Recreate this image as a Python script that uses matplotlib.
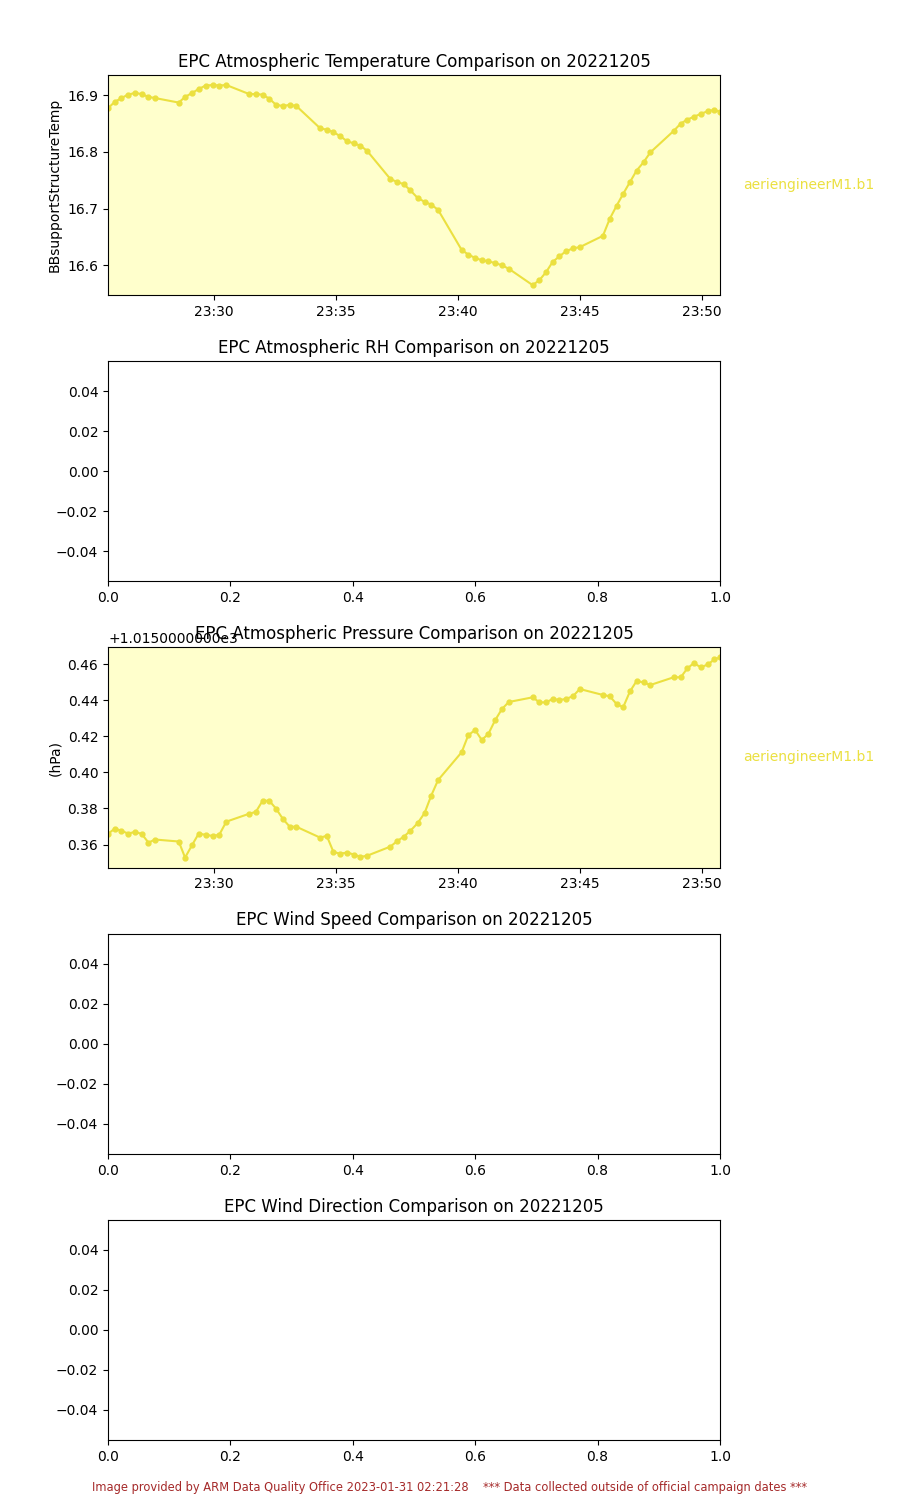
import matplotlib
matplotlib.use('Agg')
import matplotlib.pyplot as plt
import matplotlib.dates as mdates
from matplotlib.ticker import ScalarFormatter
import pandas as pd

# minutes after 23:00 on 2022-12-05
minutes = [25.66, 25.93, 26.21, 26.48, 26.77, 27.04, 27.32, 27.59, 28.56, 28.82,
           29.11, 29.38, 29.66, 29.95, 30.22, 30.51, 31.45, 31.72, 32.00, 32.27,
           32.55, 32.83, 33.11, 33.38, 34.35, 34.63, 34.90, 35.17, 35.46, 35.74,
           36.01, 36.28, 37.24, 37.52, 37.79, 38.06, 38.35, 38.64, 38.91, 39.19,
           40.16, 40.43, 40.71, 40.98, 41.25, 41.53, 41.81, 42.09, 43.07, 43.35,
           43.62, 43.89, 44.17, 44.44, 44.73, 45.00, 45.95, 46.23, 46.51, 46.78,
           47.06, 47.33, 47.62, 47.89, 48.85, 49.14, 49.41, 49.68, 49.96, 50.25,
           50.52, 50.75]

# BBsupportStructureTemp
temp = [16.877, 16.888, 16.895, 16.901, 16.904, 16.902, 16.897, 16.895, 16.887, 16.897,
        16.904, 16.911, 16.917, 16.918, 16.917, 16.918, 16.902, 16.902, 16.901, 16.894,
        16.883, 16.881, 16.883, 16.881, 16.842, 16.839, 16.835, 16.828, 16.819, 16.815,
        16.811, 16.802, 16.752, 16.747, 16.743, 16.732, 16.719, 16.712, 16.707, 16.698,
        16.627, 16.619, 16.613, 16.609, 16.607, 16.604, 16.600, 16.594, 16.565, 16.574,
        16.588, 16.606, 16.616, 16.625, 16.630, 16.632, 16.652, 16.682, 16.705, 16.726,
        16.747, 16.767, 16.782, 16.799, 16.837, 16.850, 16.857, 16.862, 16.867, 16.872,
        16.874, 16.871]

# pressure (hPa)
pres = [1015.3659, 1015.3688, 1015.3677, 1015.3661, 1015.3670, 1015.3659, 1015.3611, 1015.3628,
        1015.3617, 1015.3528, 1015.3598, 1015.3661, 1015.3654, 1015.3648, 1015.3654, 1015.3727,
        1015.3771, 1015.3781, 1015.3843, 1015.3843, 1015.3799, 1015.3742, 1015.3699, 1015.3699,
        1015.3639, 1015.3648, 1015.3560, 1015.3549, 1015.3556, 1015.3545, 1015.3532, 1015.3538,
        1015.3589, 1015.3620, 1015.3644, 1015.3677, 1015.3718, 1015.3775, 1015.3871, 1015.3957,
        1015.4112, 1015.4206, 1015.4235, 1015.4180, 1015.4212, 1015.4289, 1015.4351, 1015.4390,
        1015.4416, 1015.4388, 1015.4388, 1015.4407, 1015.4401, 1015.4407, 1015.4423, 1015.4462,
        1015.4429, 1015.4422, 1015.4379, 1015.4361, 1015.4449, 1015.4506, 1015.4499, 1015.4484,
        1015.4527, 1015.4527, 1015.4576, 1015.4606, 1015.4582, 1015.4598, 1015.4626, 1015.4637]

titles = ['EPC Atmospheric Temperature Comparison on 20221205',
          'EPC Atmospheric RH Comparison on 20221205',
          'EPC Atmospheric Pressure Comparison on 20221205',
          'EPC Wind Speed Comparison on 20221205',
          'EPC Wind Direction Comparison on 20221205']

label = 'aeriengineerM1.b1'
line_color = '#ebe040'
bg_color = '#ffffcc'

times = pd.Timestamp('2022-12-05 23:00') + pd.to_timedelta(minutes, unit='min')


class LongOffsetFormatter(ScalarFormatter):
    def get_offset(self):
        if self.offset:
            return f'{self.offset:+.10e}'.replace('e+0', 'e')
        return super().get_offset()


fig, axes = plt.subplots(5, 1, figsize=(9, 15))
plt.subplots_adjust(left=0.12, right=0.8, top=0.95, bottom=0.04, hspace=0.3)

for ax, title in zip(axes, titles):
    # fixed y so the title does not dodge the offset text
    ax.set_title(title, y=1.0, pad=6)

# temperature
ax = axes[0]
ax.set_facecolor(bg_color)
ax.plot(times, temp, marker='o', markersize=3.5, color=line_color, linewidth=1.5)
ax.set_xlim(times[0], times[-1])
ax.set_ylabel('BBsupportStructureTemp')
ax.xaxis.set_major_locator(mdates.MinuteLocator(byminute=range(0, 60, 5)))
ax.xaxis.set_major_formatter(mdates.DateFormatter('%H:%M'))
ax.text(1.037, 0.5, label, transform=ax.transAxes, va='center', color=line_color)

# pressure
ax = axes[2]
ax.set_facecolor(bg_color)
ax.plot(times, pres, marker='o', markersize=3.5, color=line_color, linewidth=1.5)
ax.set_xlim(times[0], times[-1])
ax.set_ylabel('(hPa)')
ax.yaxis.set_major_formatter(LongOffsetFormatter())
ax.xaxis.set_major_locator(mdates.MinuteLocator(byminute=range(0, 60, 5)))
ax.xaxis.set_major_formatter(mdates.DateFormatter('%H:%M'))
ax.text(1.037, 0.5, label, transform=ax.transAxes, va='center', color=line_color)

# empty panels
for i in (1, 3, 4):
    axes[i].set_xlim(0, 1)
    axes[i].set_ylim(-0.055, 0.055)

fig.text(0.5, 0.006, 'Image provided by ARM Data Quality Office 2023-01-31 02:21:28    '
         '*** Data collected outside of official campaign dates ***',
         ha='center', fontsize=8.3, color='#a52a2a')

plt.savefig('out.png', dpi=100)
